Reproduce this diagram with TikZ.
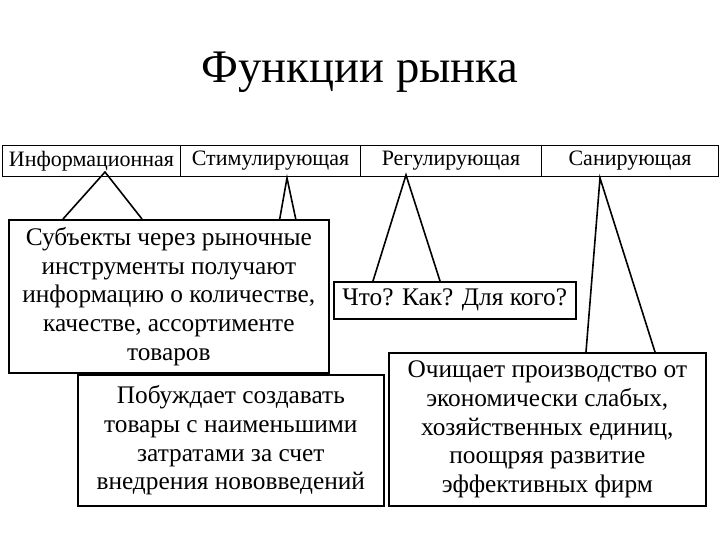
\documentclass[tikz,border=0pt]{standalone}
\usepackage{fontspec}
\setmainfont{Liberation Serif}
\begin{document}
\begin{tikzpicture}[x=0.75pt,y=-0.75pt,
  cell/.style={draw,thick,minimum height=31*0.75pt,anchor=north west,inner sep=0pt,font=\fontsize{16.5}{18}\selectfont},
  call/.style={draw,very thick,fill=white,anchor=north west,inner sep=1pt,align=center,font=\fontsize{19}{21.5}\selectfont},
  ptr/.style={very thick,line join=miter}]
\useasboundingbox (0,0) rectangle (720,540);
\node (title) at (360,72) {\fontsize{35}{40}\selectfont Функции рынка};
\node[cell,minimum width=178*0.75pt] (c1) at (2,145) {Информационная};
\node[cell,minimum width=180*0.75pt] (c2) at (180,145) {Стимулирующая};
\node[cell,minimum width=181*0.75pt] (c3) at (360,145) {Регулирующая};
\node[cell,minimum width=177*0.75pt] (c4) at (541,145) {Санирующая};
\coordinate (a1) at (105,172);
\coordinate (a2) at (287,178);
\coordinate (a3) at (406,175);
\coordinate (a4) at (600,178);
\draw[ptr] (63,219) -- (a1) -- (142,219);
\draw[ptr] (252,375) -- (a2) -- (329,375);
\draw[ptr] (373,281) -- (a3) -- (440,281);
\draw[ptr] (586,352) -- (a4) -- (655,352);
\node[call,minimum width=306*0.75pt,minimum height=131*0.75pt] (b2) at (77,374) {Побуждает создавать\\товары с наименьшими\\затратами за счет\\внедрения нововведений};
\node[call,minimum width=320*0.75pt,minimum height=153*0.75pt] (b1) at (8,219) {Субъекты через рыночные\\инструменты получают\\информацию о количестве,\\качестве, ассортименте\\товаров};
\node[call,minimum width=242*0.75pt,minimum height=37*0.75pt] (b3) at (333,281) {Что? Как? Для кого?};
\node[call,minimum width=317*0.75pt,minimum height=153*0.75pt] (b4) at (388,352) {Очищает производство от\\экономически слабых,\\хозяйственных единиц,\\поощряя развитие\\эффективных фирм};
\end{tikzpicture}
\end{document}
